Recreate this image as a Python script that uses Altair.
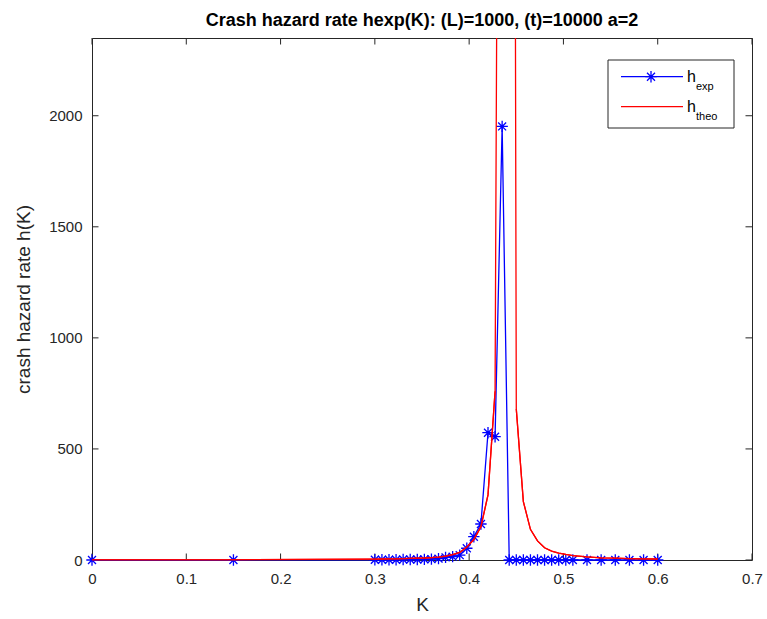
import altair as alt
import pandas as pd

# ---------------- data ----------------
K = [0, 0.15,
     0.3, 0.3075, 0.315, 0.3225, 0.33, 0.3375, 0.345, 0.3525, 0.36, 0.3675,
     0.375, 0.3825, 0.39, 0.3975, 0.405, 0.4125, 0.42, 0.4275, 0.435, 0.4425,
     0.45, 0.4575, 0.465, 0.4725, 0.48, 0.4875, 0.495, 0.5025, 0.51,
     0.525, 0.54, 0.555, 0.57, 0.585, 0.6]
h_exp = [0, 0,
         1, 1, 1, 1, 2, 2, 2, 3, 4, 6,
         12, 15, 22, 53, 105, 162, 573, 555, 1952, 0,
         0, 0, 0, 0, 0, 0, 0, 0, 0,
         0, 0, 0, 0, 0, 0]
h_theo = [0.5, 1,
          4, 4.5, 5, 5.5, 6, 7, 8, 9, 11, 13,
          17, 24, 34, 58, 92, 150, 293, 760, 8000, 15000,
          680, 263, 138, 86, 55, 40, 31, 25, 20,
          14, 10, 8, 6.5, 5.5, 4.5]
x_ticks = [0, 0.1, 0.2, 0.3, 0.4, 0.5, 0.6, 0.7]
y_ticks = [0, 500, 1000, 1500, 2000]
title_text = "Crash hazard rate hexp(K): (L)=1000, (t)=10000 a=2"
x_title = "K"
y_title = "crash hazard rate h(K)"

# ---------------- style ----------------
W, H = 660, 522
YMAX = 2350
FONT = "Liberation Sans"
AX = "#262626"
BLUE = "#0000FF"
RED = "#FF0000"
STAR = "M0,-1L0,1M-1,0L1,0M-0.7,-0.7L0.7,0.7M-0.7,0.7L0.7,-0.7"
TL = 6.5

df = pd.DataFrame({"K": K, "h_exp": h_exp, "h_theo": h_theo})
df["side"] = ["L" if k < 0.44 else "R" for k in K]
df_low = df[df["h_theo"] <= YMAX]

xs = alt.Scale(domain=[0, 0.7], nice=False, zero=False)
ys = alt.Scale(domain=[0, YMAX], nice=False, zero=False)

x_axis = alt.Axis(values=x_ticks, format="~g", ticks=False, domain=False, grid=False,
                  labelFont=FONT, labelFontSize=15, labelColor=AX, labelPadding=11,
                  labelFlush=False, labelOverlap=False,
                  title=x_title, titleFont=FONT, titleFontSize=19, titleFontWeight="normal",
                  titleColor=AX, titlePadding=9)
y_axis = alt.Axis(values=y_ticks, format="d", ticks=False, domain=False, grid=False,
                  labelFont=FONT, labelFontSize=15, labelColor=AX, labelPadding=10,
                  labelFlush=False, labelOverlap=False,
                  title=y_title, titleFont=FONT, titleFontSize=19, titleFontWeight="normal",
                  titleColor=AX, titlePadding=15)

def X(f):
    return alt.X(f, scale=xs, axis=x_axis)

def Y(f):
    return alt.Y(f, scale=ys, axis=y_axis)

# inward ticks on all four sides
xt = pd.DataFrame({"K": x_ticks})
yt = pd.DataFrame({"h_exp": y_ticks})
tick_style = dict(color=AX, strokeWidth=1)
bottom_ticks = alt.Chart(xt).mark_rule(**tick_style).encode(
    x=X("K:Q"), y=alt.value(H), y2=alt.value(H - TL))
top_ticks = alt.Chart(xt).mark_rule(**tick_style).encode(
    x=X("K:Q"), y=alt.value(0), y2=alt.value(TL))
left_ticks = alt.Chart(yt).mark_rule(**tick_style).encode(
    y=Y("h_exp:Q"), x=alt.value(0), x2=alt.value(TL))
right_ticks = alt.Chart(yt).mark_rule(**tick_style).encode(
    y=Y("h_exp:Q"), x=alt.value(W - TL), x2=alt.value(W))

base = alt.Chart(df)
blue_line = base.mark_line(color=BLUE, strokeWidth=1.3).encode(
    x=X("K:Q"), y=Y("h_exp:Q"))
blue_pts = base.mark_point(shape=STAR, filled=False, color=BLUE, size=130,
                           strokeWidth=1.3, opacity=1).encode(
    x=X("K:Q"), y=Y("h_exp:Q"))
# full theoretical curve, clipped at the top of the axes
red_full = base.mark_line(color=RED, strokeWidth=1.3, clip=True).encode(
    x=X("K:Q"), y=Y("h_theo:Q"))
# the in-range parts again, unclipped so the curve stays visible on the x-axis
red_low = alt.Chart(df_low).mark_line(color=RED, strokeWidth=1.3).encode(
    x=X("K:Q"), y=Y("h_theo:Q"), detail="side:N")

# ---------------- legend (drawn by hand for subscripts) ----------------
one = pd.DataFrame({"a": [0]})
leg_box = alt.Chart(one).mark_rect(fill="white", stroke=AX, strokeWidth=1).encode(
    x=alt.value(516), x2=alt.value(642), y=alt.value(22), y2=alt.value(90))
leg_blue = alt.Chart(one).mark_rule(color=BLUE, strokeWidth=1.3).encode(
    x=alt.value(529), x2=alt.value(591), y=alt.value(38.7))
leg_star = alt.Chart(one).mark_point(shape=STAR, filled=False, color=BLUE, size=130,
                                     strokeWidth=1.3, opacity=1).encode(
    x=alt.value(559), y=alt.value(38.7))
leg_red = alt.Chart(one).mark_rule(color=RED, strokeWidth=1.3).encode(
    x=alt.value(529), x2=alt.value(591), y=alt.value(68.7))
txt = dict(align="left", baseline="alphabetic", font=FONT, color="#000")
leg_h1 = alt.Chart(one).mark_text(fontSize=16, **txt).encode(
    x=alt.value(595), y=alt.value(44), text=alt.value("h"))
leg_s1 = alt.Chart(one).mark_text(fontSize=11, **txt).encode(
    x=alt.value(604), y=alt.value(51.5), text=alt.value("exp"))
leg_h2 = alt.Chart(one).mark_text(fontSize=16, **txt).encode(
    x=alt.value(595), y=alt.value(74), text=alt.value("h"))
leg_s2 = alt.Chart(one).mark_text(fontSize=11, **txt).encode(
    x=alt.value(604), y=alt.value(81.5), text=alt.value("theo"))

chart = alt.layer(
    bottom_ticks, top_ticks, left_ticks, right_ticks,
    blue_line, blue_pts, red_full, red_low,
    leg_box, leg_blue, leg_star, leg_red, leg_h1, leg_s1, leg_h2, leg_s2,
).properties(
    width=W, height=H,
    title=alt.TitleParams(text=title_text, font=FONT, fontSize=18, fontWeight="bold",
                          color="#000", anchor="middle", offset=8),
    autosize=alt.AutoSizeParams(type="none"),
    padding={"left": 92, "top": 38, "right": 15, "bottom": 59},
    background="white",
).configure_view(stroke=AX, strokeWidth=1)

chart.save("out.html", embed_options={"renderer": "svg", "actions": False})
